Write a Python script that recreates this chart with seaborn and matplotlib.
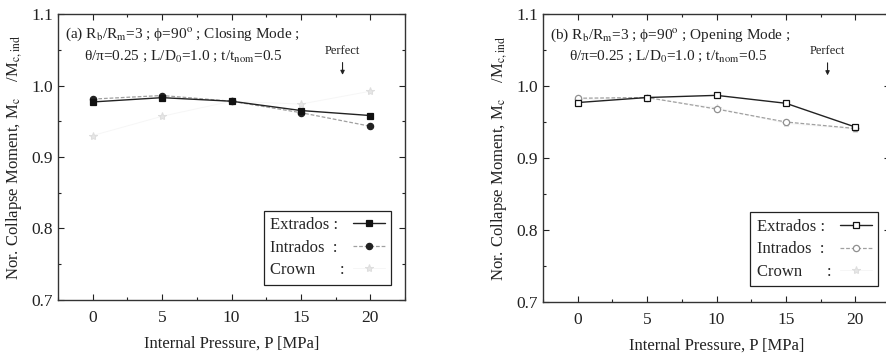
import matplotlib
matplotlib.use("Agg")
import matplotlib.pyplot as plt
import seaborn as sns
import pandas as pd
from matplotlib.ticker import MultipleLocator

sns.set_theme(style="ticks")
plt.rcParams['font.family'] = ['Liberation Serif', 'DejaVu Serif']
plt.rcParams['mathtext.fontset'] = 'stix'

# ---- data ----
pressure = [0, 5, 10, 15, 20]
closing_extrados = [0.977, 0.983, 0.978, 0.965, 0.958]
closing_intrados = [0.981, 0.986, 0.978, 0.962, 0.943]
closing_crown = [0.930, 0.957, 0.978, 0.974, 0.992]
opening_extrados = [0.977, 0.984, 0.987, 0.976, 0.943]
opening_intrados = [0.983, 0.984, 0.968, 0.950, 0.941]
opening_crown = [0.981, 0.983, 0.970, 0.948, 0.940]

series_labels = ["Extrados :", "Intrados  :", "Crown      :"]
x_ticks = [0, 5, 10, 15, 20]
y_ticks = [0.7, 0.8, 0.9, 1.0, 1.1]
titles = [
    "(a) R$_\\mathrm{b}$/R$_\\mathrm{m}$=3 ; ϕ=90$^\\mathrm{o}$ ; Closing Mode ;\n     θ/π=0.25 ; L/D$_\\mathrm{0}$=1.0 ; t/t$_\\mathrm{nom}$=0.5",
    "(b) R$_\\mathrm{b}$/R$_\\mathrm{m}$=3 ; ϕ=90$^\\mathrm{o}$ ; Opening Mode ;\n     θ/π=0.25 ; L/D$_\\mathrm{0}$=1.0 ; t/t$_\\mathrm{nom}$=0.5",
]

fig = plt.figure(figsize=(8.86, 3.58), dpi=100)
ax1 = fig.add_axes([58/886, 58/358, 347/886, 286/358])
ax2 = fig.add_axes([543/886, 56/358, 347/886, 288/358])

panels = [
    (ax1, closing_extrados, closing_intrados, closing_crown, True),
    (ax2, opening_extrados, opening_intrados, opening_crown, False),
]

legends = []
for i, (ax, ext, intr, crown, filled) in enumerate(panels):
    df = pd.DataFrame({"P": pressure, "ext": ext, "int": intr, "crown": crown})
    sns.lineplot(data=df, x="P", y="crown", ax=ax, color="#f6f6f6", lw=0.7,
                 marker="*", markersize=6, markeredgecolor="#dedede",
                 markerfacecolor="#e6e6e6", label=series_labels[2])
    sns.lineplot(data=df, x="P", y="int", ax=ax, color="#a0a0a0", lw=0.9,
                 linestyle=(0, (3, 1.5)), marker="o", markersize=4.5,
                 markeredgecolor="#222222" if filled else "#909090",
                 markerfacecolor="#222222" if filled else "white",
                 markeredgewidth=0.9, label=series_labels[1])
    sns.lineplot(data=df, x="P", y="ext", ax=ax, color="#222222", lw=1.0,
                 marker="s", markersize=5,
                 markeredgecolor="#111111",
                 markerfacecolor="#111111" if filled else "white",
                 markeredgewidth=0.9, label=series_labels[0])

    ax.set_xlim(-2.5, 22.5)
    ax.set_ylim(0.7, 1.1)
    ax.set_xticks(x_ticks)
    ax.set_yticks(y_ticks)
    ax.set_yticklabels([f"{v:.1f}" for v in y_ticks])
    ax.xaxis.set_minor_locator(MultipleLocator(2.5))
    ax.yaxis.set_minor_locator(MultipleLocator(0.05))
    ax.tick_params(which="both", direction="in", top=True, right=True,
                   labelsize=12.5, colors="#222222", width=0.8)
    ax.tick_params(which="major", length=4)
    ax.tick_params(which="minor", length=2.5)
    ax.tick_params(axis="x", pad=7)
    for s in ax.spines.values():
        s.set_color("#333333")
        s.set_linewidth(1.0)
    ax.set_xlabel("Internal Pressure, P [MPa]", fontsize=12, color="#222222", labelpad=7)
    ax.set_ylabel("Nor. Collapse Moment, M$_\\mathrm{c}$    /M$_\\mathrm{c,ind}$", fontsize=12,
                  color="#222222", labelpad=5)

    ax.text(-2.0, 1.083, titles[i], fontsize=11, va="top", ha="left",
            color="#222222", linespacing=1.5)
    ax.text(18.0, 1.040, "Perfect", fontsize=9, ha="center", va="bottom",
            color="#222222")
    ax.annotate("", xy=(18.0, 1.011), xytext=(18.0, 1.036),
                arrowprops=dict(arrowstyle="-|>", color="#222222", lw=0.8,
                                mutation_scale=6))

    handles, labels = ax.get_legend_handles_labels()
    order = [labels.index(l) for l in series_labels]
    leg = ax.legend([handles[k] for k in order], [labels[k] for k in order],
                    loc="lower right", markerfirst=False, fontsize=12,
                    frameon=True, fancybox=False, edgecolor="#222222",
                    framealpha=1, handlelength=1.9, borderpad=0.4,
                    labelspacing=0.38, handletextpad=0.5,
                    bbox_to_anchor=(0.985, 0.025) if i == 0 else (0.99, 0.025))
    leg.get_frame().set_linewidth(0.9)
    legends.append(leg)

# left-align legend labels while keeping handles in one column
fig.canvas.draw()
renderer = fig.canvas.get_renderer()
for leg in legends:
    widths = [t.get_window_extent(renderer).width for t in leg.get_texts()]
    maxw = max(widths)
    col = leg._legend_handle_box.get_children()[0]
    col.align = "left"
    for item, w in zip(col.get_children(), widths):
        item.sep = leg.handletextpad * leg._fontsize + (maxw - w) * 72.0 / fig.dpi

fig.savefig("out.png", dpi=100)
